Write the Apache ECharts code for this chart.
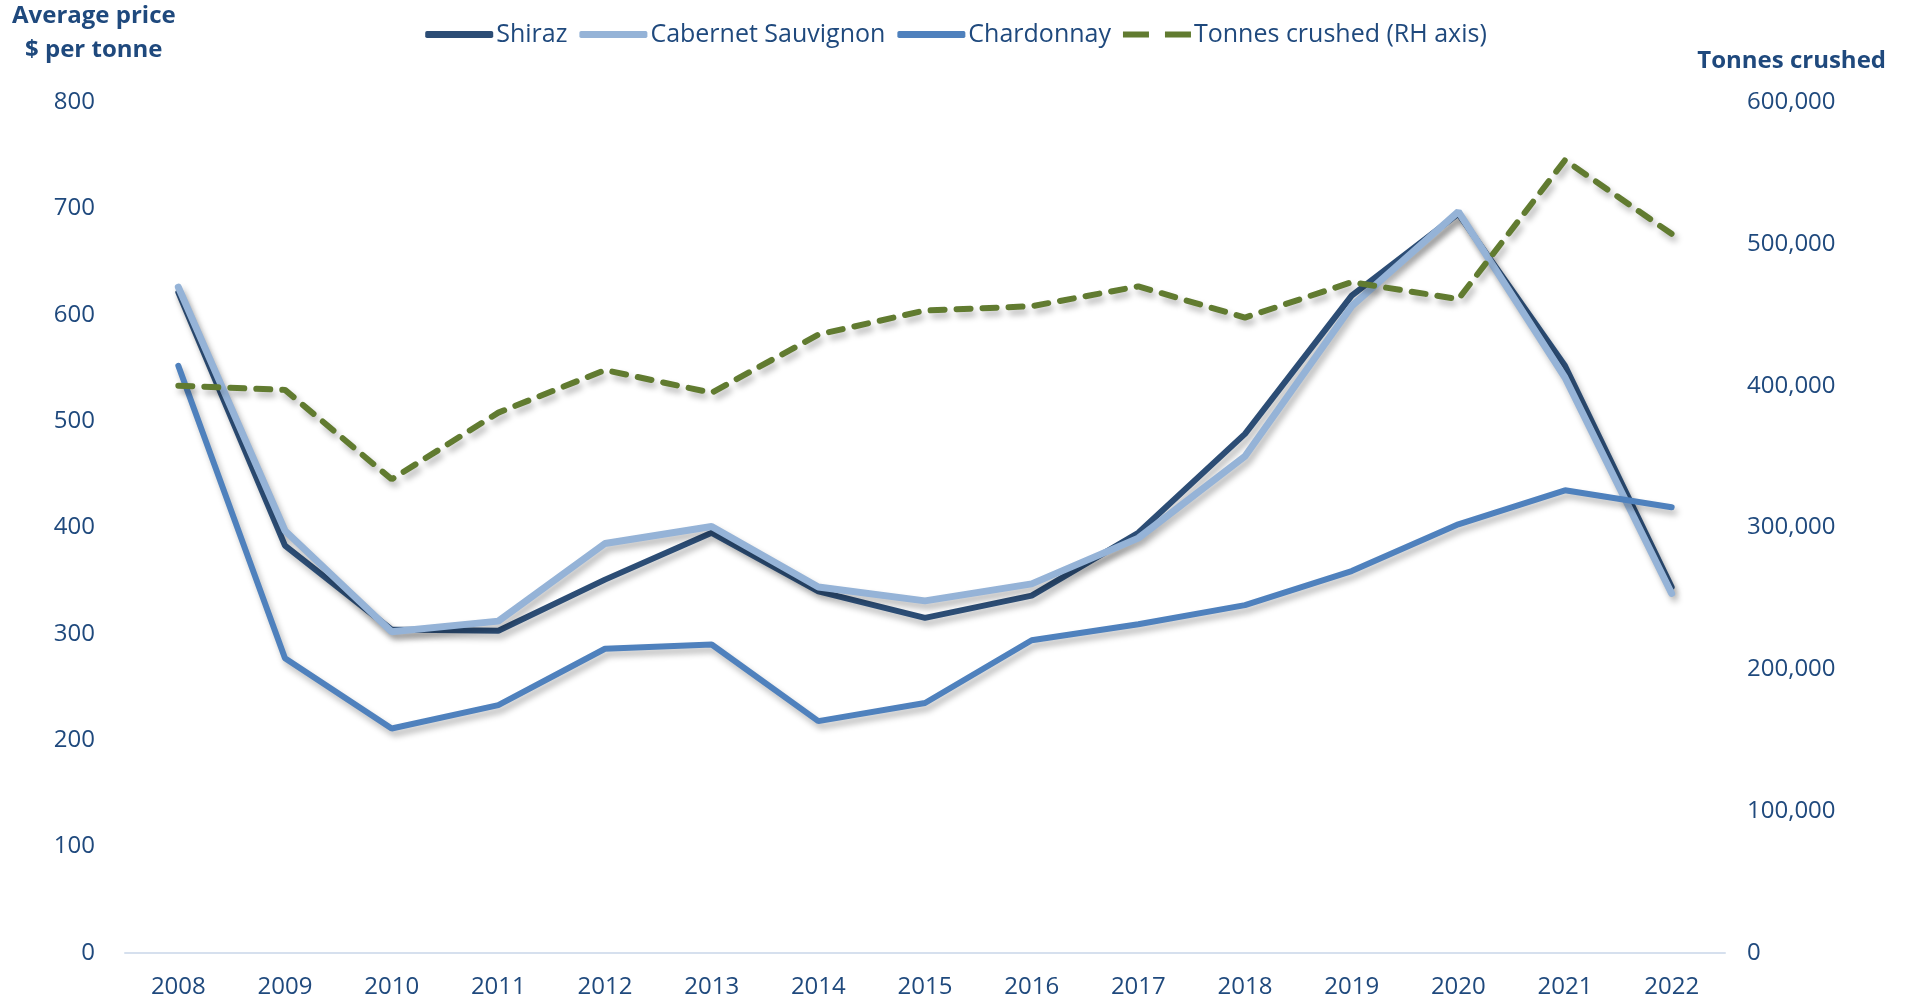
<!DOCTYPE html>
<html>
<head>
<meta charset="utf-8">
<script src="https://cdn.jsdelivr.net/npm/echarts@6/dist/echarts.min.js"></script>
<style>
html,body{margin:0;padding:0;background:#fff;}
#main{width:1912px;height:1005px;}
</style>
</head>
<body>
<div id="main"></div>
<script>
// years on the x axis
var years = ['2008','2009','2010','2011','2012','2013','2014','2015','2016','2017','2018','2019','2020','2021','2022'];
// average price, $ per tonne
var shiraz = [621,383,304,303,351,395,340,315,336,395,488,618,695,552,344];
var cabernet = [626,397,302,312,385,401,344,331,347,390,467,608,697,541,338];
var chardonnay = [552,277,211,233,286,290,218,235,294,309,327,359,403,435,419];
// tonnes crushed (right hand axis)
var tonnes = [400000,397000,334000,381000,411000,395000,436000,453000,456000,470000,448000,473000,461000,559000,507000];

var txtColor = '#1F497D';
var fontFam = '"Liberation Sans Narrow","Open Sans",sans-serif';

function lineSeries(name, data, color, width, axis, dashed){
	return {
		name: name,
		type: 'line',
		data: data,
		yAxisIndex: axis,
		symbol: 'none',
		lineStyle: {
			color: color,
			width: width,
			type: dashed ? [14, 12] : 'solid',
			cap: 'round',
			shadowColor: 'rgba(0,0,0,0.28)',
			shadowBlur: 6,
			shadowOffsetX: 3,
			shadowOffsetY: 5
		},
		itemStyle: {color: color}
	};
}

var myChart = echarts.init(document.getElementById('main'));
var option = {
	animation: false,
	textStyle: {fontFamily: fontFam, color: txtColor},
	grid: {left: 125, right: 187, top: 102, bottom: 52},
	legend: {
		top: 17,
		left: 'center',
		itemWidth: 68,
		itemHeight: 7,
		itemGap: 12,
		textStyle: {fontSize: 25, color: txtColor, fontFamily: fontFam, padding: [0, 0, 0, -2]},
		data: [
			{name: 'Shiraz', icon: 'roundRect'},
			{name: 'Cabernet Sauvignon', icon: 'roundRect'},
			{name: 'Chardonnay', icon: 'roundRect'},
			{name: 'Tonnes crushed (RH axis)', icon: 'path://M0,0h26v6h-26z M42,0h26v6h-26z'}
		]
	},
	graphic: [
		{type: 'text', left: 12, top: 4, style: {text: 'Average price', font: 'bold 24px ' + fontFam, fill: txtColor}},
		{type: 'text', left: 25, top: 38, style: {text: '$ per tonne', font: 'bold 24px ' + fontFam, fill: txtColor}},
		{type: 'text', right: 26, top: 49, style: {text: 'Tonnes crushed', font: 'bold 24px ' + fontFam, fill: txtColor}}
	],
	xAxis: {
		type: 'category',
		data: years,
		boundaryGap: true,
		axisLine: {lineStyle: {color: '#D6E0EE', width: 2}},
		axisTick: {show: false},
		axisLabel: {fontSize: 24, color: txtColor, margin: 22, fontFamily: fontFam}
	},
	yAxis: [
		{
			type: 'value', min: 0, max: 800, interval: 100,
			splitLine: {show: false},
			axisLine: {show: false},
			axisTick: {show: false},
			axisLabel: {fontSize: 24, color: txtColor, margin: 30, fontFamily: fontFam}
		},
		{
			type: 'value', min: 0, max: 600000, interval: 100000,
			splitLine: {show: false},
			axisLine: {show: false},
			axisTick: {show: false},
			axisLabel: {
				fontSize: 24, color: txtColor, margin: 22, fontFamily: fontFam,
				formatter: function(v){ return v.toLocaleString('en-US'); }
			}
		}
	],
	series: [
		lineSeries('Shiraz', shiraz, '#2C4D75', 6, 0, false),
		lineSeries('Cabernet Sauvignon', cabernet, '#95B3D7', 7, 0, false),
		lineSeries('Chardonnay', chardonnay, '#4F81BD', 6, 0, false),
		lineSeries('Tonnes crushed (RH axis)', tonnes, '#617B30', 6, 1, true)
	]
};
myChart.setOption(option);
window.addEventListener('resize', function(){
	myChart.resize();
});
</script>
</body>
</html>
